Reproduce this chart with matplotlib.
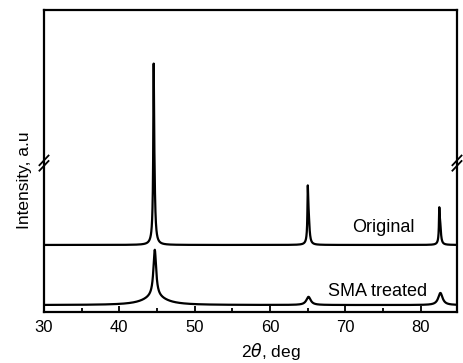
import numpy as np
import matplotlib
matplotlib.use("Agg")
import matplotlib.pyplot as plt
from matplotlib.ticker import MultipleLocator

plt.rcParams['font.family'] = ['Liberation Sans', 'DejaVu Sans']

# peak lists: position (deg), height, half width (deg)
orig_base = 22.2
orig_pos = [44.55, 44.6, 65.0, 65.1, 82.45, 82.55]
orig_height = [36.0, 27.0, 13.0, 10.0, 8.0, 7.0]
orig_hwhm = [0.05, 0.14, 0.05, 0.14, 0.05, 0.13]

sma_base = 2.3
sma_pos = [44.7, 44.7, 65.1, 82.6]
sma_height = [15.5, 2.8, 2.7, 4.0]
sma_hwhm = [0.22, 1.8, 0.35, 0.35]

xticks = [30, 40, 50, 60, 70, 80]


def pattern(x, base, pos, height, hwhm):
    y = np.full_like(x, base)
    for p, h, w in zip(pos, height, hwhm):
        y += h / (1 + ((x - p) / w) ** 2)
    return y


x = np.linspace(30, 85, 8000)
y_orig = pattern(x, orig_base, orig_pos, orig_height, orig_hwhm)
y_sma = pattern(x, sma_base, sma_pos, sma_height, sma_hwhm)

fig = plt.figure(figsize=(4.63, 3.63), dpi=100)
ax = fig.add_axes([0.095, 0.1405, 0.892, 0.832])

ax.plot(x, y_orig, color='black', lw=1.6)
ax.plot(x, y_sma, color='black', lw=1.6)

ax.set_xlim(30, 84.8)
ax.set_ylim(0, 100)
ax.set_xticks(xticks)
ax.xaxis.set_minor_locator(MultipleLocator(5))
ax.tick_params(axis='x', which='both', direction='in', labelsize=12, pad=6)
ax.tick_params(axis='x', which='major', length=4, width=1.3)
ax.tick_params(axis='x', which='minor', length=3, width=1.3)
ax.set_yticks([])
for s in ax.spines.values():
    s.set_linewidth(1.6)

ax.text(75.0, 28.1, 'Original', fontsize=13, ha='center', va='center')
ax.text(74.2, 6.9, 'SMA treated', fontsize=13, ha='center', va='center')

ax.set_xlabel(r'2$\theta$, deg', fontsize=12.5)
ax.xaxis.set_label_coords(0.55, -0.097)
ax.set_ylabel('Intensity, a.u', fontsize=12.5)
ax.yaxis.set_label_coords(-0.029, 0.437)

# axis break marks on both spines
yb = 0.493
for xs in (0.0, 1.0):
    for dy in (-0.009, 0.009):
        ax.plot([xs - 0.011, xs + 0.011], [yb + dy - 0.016, yb + dy + 0.016],
                transform=ax.transAxes, color='black', lw=1.3, clip_on=False)

fig.savefig('out.png', dpi=100)
